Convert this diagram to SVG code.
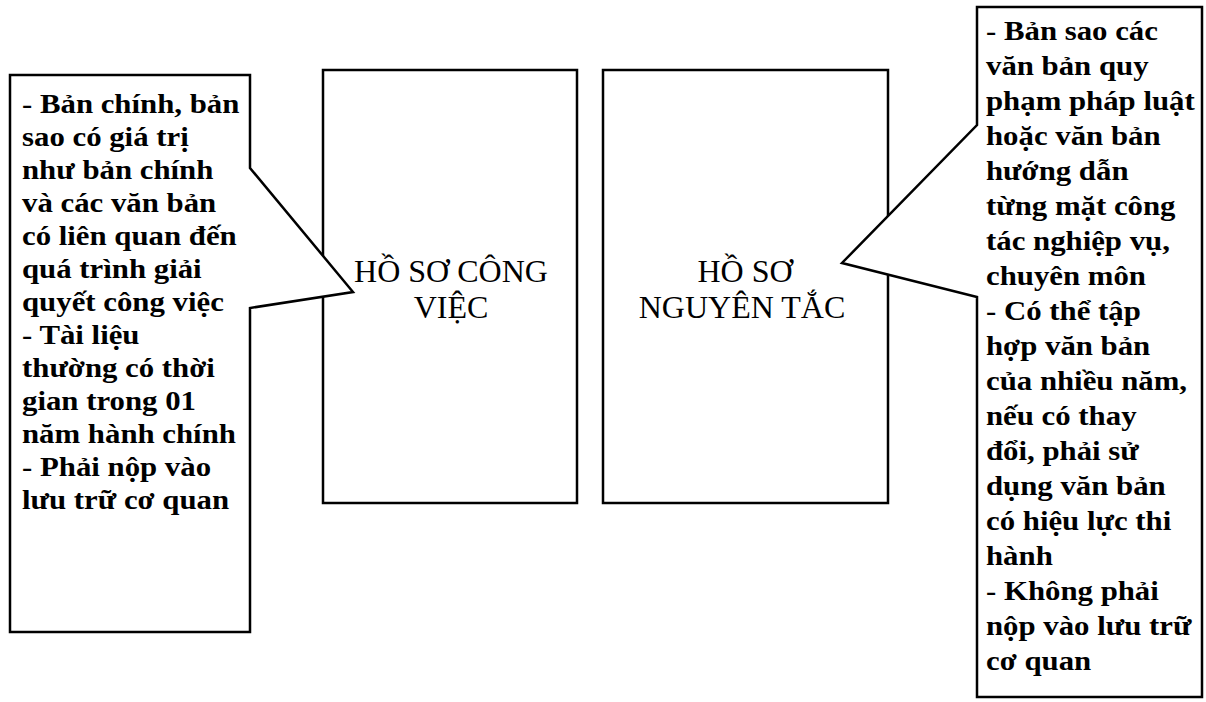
<svg xmlns="http://www.w3.org/2000/svg" width="1206" height="702" viewBox="0 0 1206 702">
<style>
.shape{fill:#fff;stroke:#000;stroke-width:2.5;stroke-linejoin:miter}
.note{font-family:"Liberation Serif","Times New Roman",serif;font-weight:bold;font-size:28px;fill:#000}
.title{font-family:"Liberation Serif","Times New Roman",serif;font-size:32px;fill:#000;text-anchor:middle}
</style>
<rect width="1206" height="702" fill="#fff"/>
<g id="box-cong-viec">
<rect class="shape" x="323" y="70" width="254" height="433"/>
<text class="title" x="451" y="282">HỒ SƠ CÔNG</text>
<text class="title" x="451" y="318">VIỆC</text>
</g>
<g id="box-nguyen-tac">
<rect class="shape" x="603" y="70" width="285" height="433"/>
<text class="title" x="745" y="282">HỒ SƠ</text>
<text class="title" x="742" y="318">NGUYÊN TẮC</text>
</g>
<g id="note-cong-viec">
<path class="shape" d="M10,75 H250 V168 L353,292 L250,308 V632 H10 Z"/>
<g transform="translate(22,0) scale(1.1,1)">
<text class="note">
<tspan x="0" y="113">- Bản chính, bản</tspan>
<tspan x="0" y="146">sao có giá trị</tspan>
<tspan x="0" y="179">như bản chính</tspan>
<tspan x="0" y="212">và các văn bản</tspan>
<tspan x="0" y="245">có liên quan đến</tspan>
<tspan x="0" y="278">quá trình giải</tspan>
<tspan x="0" y="311">quyết công việc</tspan>
<tspan x="0" y="344">- Tài liệu</tspan>
<tspan x="0" y="377">thường có thời</tspan>
<tspan x="0" y="410">gian trong 01</tspan>
<tspan x="0" y="443">năm hành chính</tspan>
<tspan x="0" y="476">- Phải nộp vào</tspan>
<tspan x="0" y="509">lưu trữ cơ quan</tspan>
</text>
</g>
</g>
<g id="note-nguyen-tac">
<path class="shape" d="M977,7 H1202 V697 H977 V297 L842,263 L977,125 Z"/>
<g transform="translate(986,0) scale(1.1,1)">
<text class="note">
<tspan x="0" y="40">- Bản sao các</tspan>
<tspan x="0" y="75">văn bản quy</tspan>
<tspan x="0" y="110">phạm pháp luật</tspan>
<tspan x="0" y="145">hoặc văn bản</tspan>
<tspan x="0" y="180">hướng dẫn</tspan>
<tspan x="0" y="215">từng mặt công</tspan>
<tspan x="0" y="250">tác nghiệp vụ,</tspan>
<tspan x="0" y="285">chuyên môn</tspan>
<tspan x="0" y="320">- Có thể tập</tspan>
<tspan x="0" y="355">hợp văn bản</tspan>
<tspan x="0" y="390">của nhiều năm,</tspan>
<tspan x="0" y="425">nếu có thay</tspan>
<tspan x="0" y="460">đổi, phải sử</tspan>
<tspan x="0" y="495">dụng văn bản</tspan>
<tspan x="0" y="530">có hiệu lực thi</tspan>
<tspan x="0" y="565">hành</tspan>
<tspan x="0" y="600">- Không phải</tspan>
<tspan x="0" y="635">nộp vào lưu trữ</tspan>
<tspan x="0" y="670">cơ quan</tspan>
</text>
</g>
</g>
<g id="connectors"></g>
</svg>
